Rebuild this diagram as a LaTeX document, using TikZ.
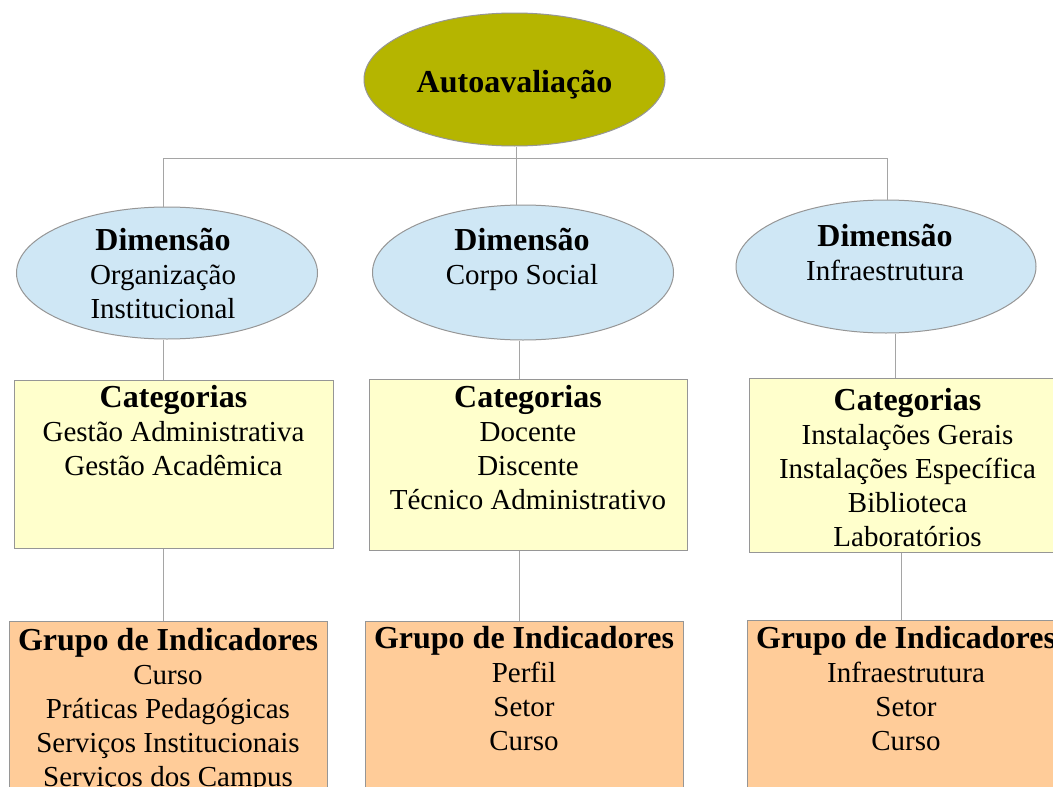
\documentclass[tikz,border=0pt]{standalone}
\usepackage{fontspec}
\setmainfont{Liberation Serif}
\usetikzlibrary{shapes.geometric}
\definecolor{autofill}{RGB}{181,181,0}
\definecolor{dimfill}{RGB}{207,231,245}
\definecolor{catfill}{RGB}{255,255,204}
\definecolor{indfill}{RGB}{255,204,153}
\definecolor{edgegray}{RGB}{150,150,150}
\definecolor{linegray}{RGB}{165,165,165}
\newcommand{\hdr}[1]{{\fontsize{32}{34}\selectfont\bfseries #1}}
\begin{document}
\begin{tikzpicture}[x=1pt,y=-1pt,
  ell/.style={ellipse,draw=edgegray,line width=1pt,inner sep=0pt},
  dimell/.style={ell,fill=dimfill,minimum width=301pt,minimum height=132pt},
  catbox/.style={rectangle,draw=edgegray,line width=1pt,fill=catfill,inner sep=0pt},
  indbox/.style={rectangle,draw=edgegray,line width=1pt,fill=indfill,inner sep=0pt},
  txt/.style={align=center,inner sep=0pt,font=\fontsize{29}{34}\selectfont},
  conn/.style={draw=linegray,line width=1pt}]
\path[use as bounding box,clip] (0,0) rectangle (1053,787);
\fill[white] (0,0) rectangle (1053,787);
% top
\node[ell,fill=autofill,minimum width=301pt,minimum height=133pt] (top) at (514.5,79.5) {};
\node[txt,anchor=base] (toptxt) at (514.5,92) {\hdr{Autoavaliação}};
% dimensions
\node[dimell] (e1) at (167,273) {};
\node[dimell,minimum height=135pt] (e2) at (523,272.5) {};
\node[dimell,minimum width=300pt,minimum height=133pt] (e3) at (886,266.5) {};
\node[txt,anchor=north] (e1t) at (163,228.5) {\hdr{Dimensão}\\Organização\\Institucional};
\node[txt,anchor=north] (e2t) at (522,228.5) {\hdr{Dimensão}\\Corpo Social};
\node[txt,anchor=north] (e3t) at (885,224.5) {\hdr{Dimensão}\\Infraestrutura};
% categories
\node[catbox,minimum width=319pt,minimum height=168pt] (c1) at (173.5,464) {};
\node[catbox,minimum width=318pt,minimum height=171pt] (c2) at (528,464.5) {};
\node[catbox,minimum width=317pt,minimum height=174pt] (c3) at (907.5,465) {};
\node[txt,anchor=north] (c1t) at (173.5,385) {\hdr{Categorias}\\Gestão Administrativa\\Gestão Acadêmica};
\node[txt,anchor=north] (c2t) at (528,385) {\hdr{Categorias}\\Docente\\Discente\\Técnico Administrativo};
\node[txt,anchor=north] (c3t) at (907.5,388) {\hdr{Categorias}\\Instalações Gerais\\Instalações Específica\\Biblioteca\\Laboratórios};
% indicators
\node[indbox,minimum width=318pt,minimum height=200pt] (g1) at (168,721) {};
\node[indbox,minimum width=318pt,minimum height=200pt] (g2) at (524,721) {};
\node[indbox,minimum width=318pt,minimum height=200pt] (g3) at (906,720) {};
\node[txt,anchor=north] (g1t) at (168,628.5) {\hdr{Grupo de Indicadores}\\Curso\\Práticas Pedagógicas\\Serviços Institucionais\\Serviços dos Campus};
\node[txt,anchor=north] (g2t) at (524,626.5) {\hdr{Grupo de Indicadores}\\Perfil\\Setor\\Curso};
\node[txt,anchor=north] (g3t) at (906,626.5) {\hdr{Grupo de Indicadores}\\Infraestrutura\\Setor\\Curso};
% connectors
\coordinate (b1) at (163,158);
\coordinate (b2) at (516,158);
\coordinate (b3) at (887,158);
\coordinate (x2) at (519,0);
\coordinate (x3) at (895,0);
\coordinate (x3b) at (901,0);
\path[conn] (b2 |- top.south) -- (b2);
\path[conn] (b1) -- (b3);
\path[conn] (b1) -- (b1 |- e1.north);
\path[conn] (b2) -- (b2 |- e2.north);
\path[conn] (b3) -- (b3 |- e3.north);
\path[conn] (b1 |- e1.south) -- (b1 |- c1.north);
\path[conn] (x2 |- e2.south) -- (x2 |- c2.north);
\path[conn] (x3 |- e3.south) -- (x3 |- c3.north);
\path[conn] (b1 |- c1.south) -- (b1 |- g1.north);
\path[conn] (x2 |- c2.south) -- (x2 |- g2.north);
\path[conn] (x3b |- c3.south) -- (x3b |- g3.north);
\end{tikzpicture}
\end{document}
